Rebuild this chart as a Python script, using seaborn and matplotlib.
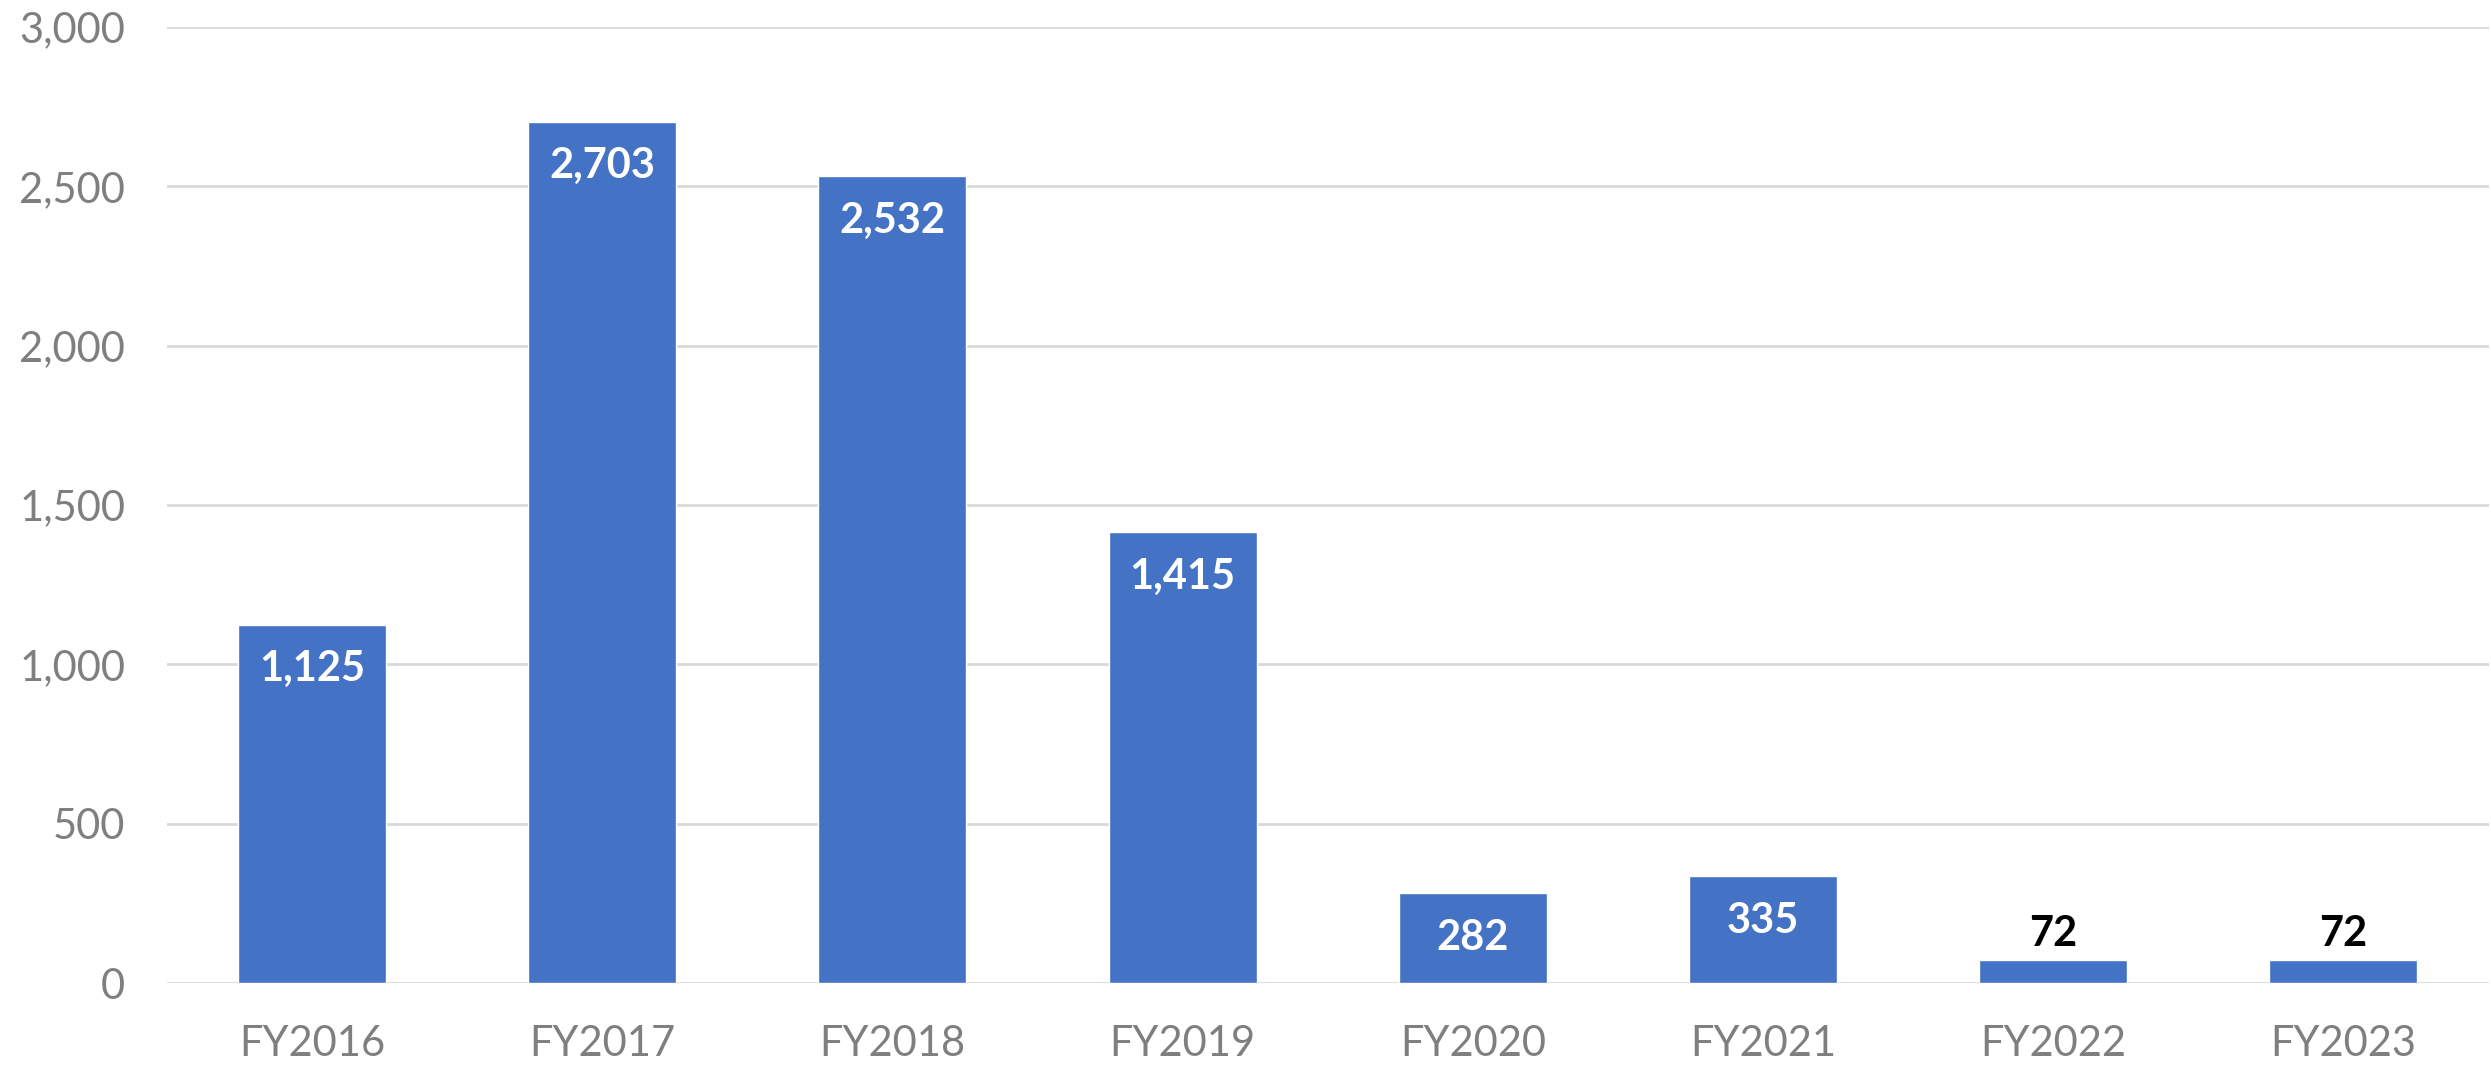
import matplotlib
matplotlib.use('Agg')
import matplotlib.pyplot as plt
import seaborn as sns
import pandas as pd
from matplotlib.ticker import FuncFormatter, MultipleLocator

# 数据
years = ['FY2016', 'FY2017', 'FY2018', 'FY2019', 'FY2020', 'FY2021', 'FY2022', 'FY2023']
counts = [1125, 2703, 2532, 1415, 282, 335, 72, 72]

df = pd.DataFrame({'year': years, 'count': counts})

sns.set_theme(style='white')
plt.rcParams['font.family'] = ['Lato', 'DejaVu Sans']

fig = plt.figure(figsize=(24.91, 10.67), dpi=100)
ax = fig.add_axes([0.067, 0.0787, 0.932, 0.896])

sns.barplot(data=df, x='year', y='count', color='#4472C4', saturation=1,
            width=0.51, ax=ax)

ax.set_xlim(-0.5, len(years) - 0.5)
ax.set_ylim(0, 3000)
ax.yaxis.set_major_locator(MultipleLocator(500))
ax.yaxis.set_major_formatter(FuncFormatter(lambda v, p: f'{v:,.0f}'))
ax.yaxis.grid(True, color='#D9D9D9', linewidth=2)
ax.set_axisbelow(True)
for s in ax.spines.values():
    s.set_visible(False)
ax.set_xlabel('')
ax.set_ylabel('')
ax.tick_params(axis='both', length=0, labelsize=30, labelcolor='#7F7F7F')
ax.tick_params(axis='x', pad=30)
ax.tick_params(axis='y', pad=30)

# 数据标签
for bar, v in zip(ax.patches, counts):
    cx = bar.get_x() + bar.get_width() / 2
    if v > 150:
        ax.annotate(f'{v:,}', (cx, v), xytext=(0, -32), textcoords='offset points',
                    ha='center', va='center', color='white', fontsize=30,
                    fontweight='bold')
    else:
        ax.annotate(f'{v:,}', (cx, v), xytext=(0, 19), textcoords='offset points',
                    ha='center', va='center', color='black', fontsize=30,
                    fontweight='bold')

fig.savefig('out.png', dpi=100)
